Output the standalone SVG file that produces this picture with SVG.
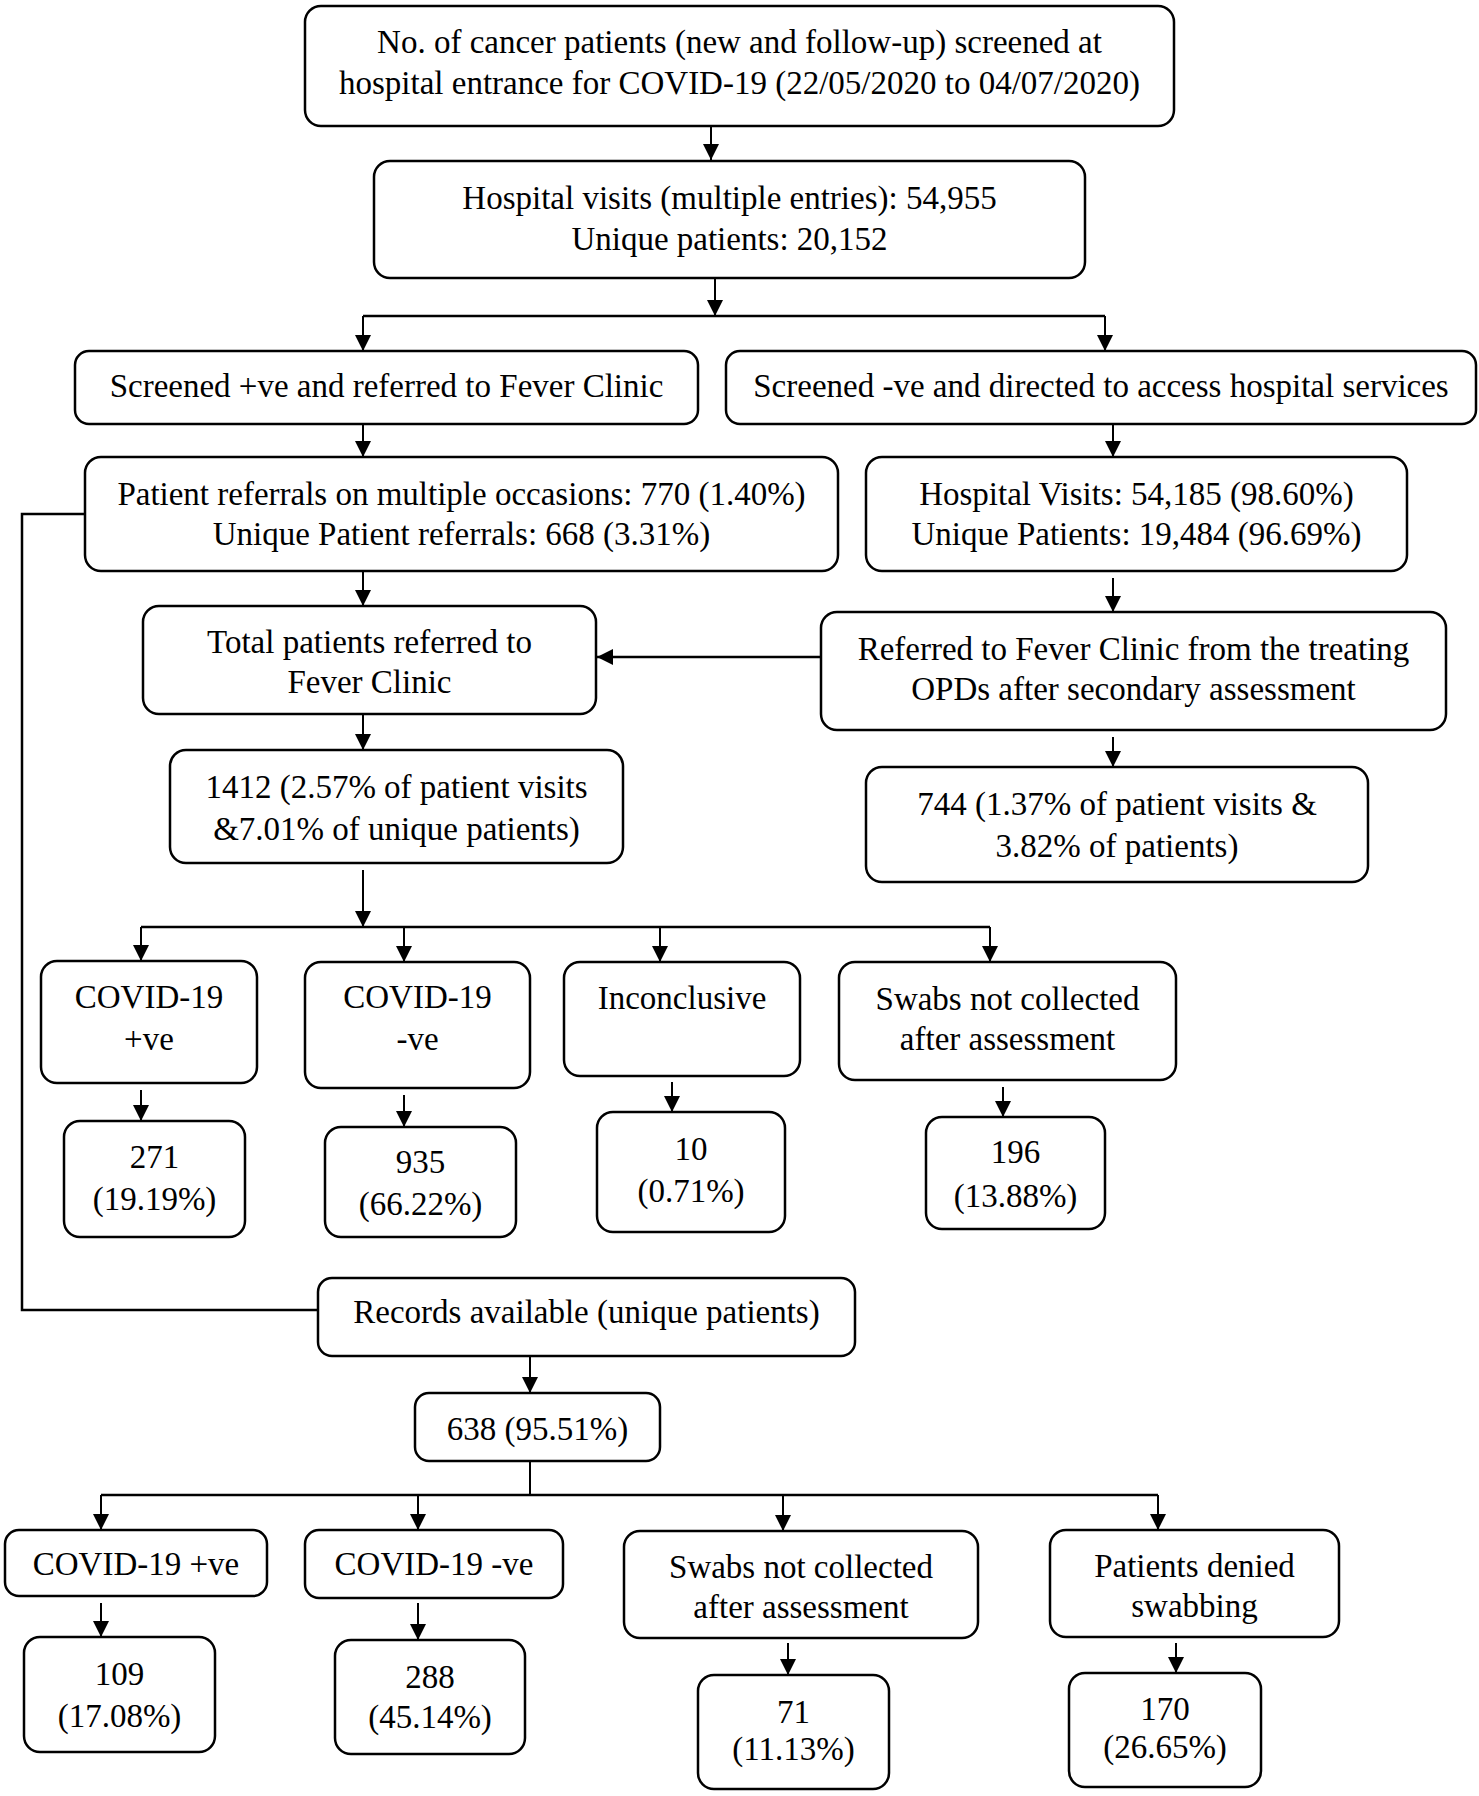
<svg xmlns="http://www.w3.org/2000/svg" width="1479" height="1796" viewBox="0 0 1479 1796">
<style>
.box{fill:#fff;stroke:#000;stroke-width:2.5}
.t{font-family:"Liberation Serif","Times New Roman",serif;font-size:33px;fill:#000;text-anchor:middle}
.c{fill:none;stroke:#000;stroke-width:2}
.b{fill:none;stroke:#000;stroke-width:2.5}
</style>
<defs>
<marker id="ah" markerUnits="userSpaceOnUse" markerWidth="16" markerHeight="16" refX="16" refY="8" orient="auto" viewBox="0 0 16 16">
<path d="M0,0 L16,8 L0,16 z" fill="#000"/>
</marker>
</defs>
<rect width="1479" height="1796" fill="#fff"/>
<g id="connectors">
<line class="c" x1="711" y1="126" x2="711" y2="160" marker-end="url(#ah)"/>
<line class="c" x1="715" y1="278" x2="715" y2="316" marker-end="url(#ah)"/>
<line class="b" x1="363" y1="316" x2="1105" y2="316"/>
<line class="c" x1="363" y1="316" x2="363" y2="351" marker-end="url(#ah)"/>
<line class="c" x1="1105" y1="316" x2="1105" y2="351" marker-end="url(#ah)"/>
<line class="c" x1="363" y1="425" x2="363" y2="457" marker-end="url(#ah)"/>
<line class="c" x1="1113" y1="425" x2="1113" y2="457" marker-end="url(#ah)"/>
<line class="c" x1="363" y1="571" x2="363" y2="606" marker-end="url(#ah)"/>
<line class="c" x1="1113" y1="578" x2="1113" y2="612" marker-end="url(#ah)"/>
<line class="b" x1="821" y1="657" x2="597" y2="657" marker-end="url(#ah)"/>
<line class="c" x1="363" y1="714" x2="363" y2="750" marker-end="url(#ah)"/>
<line class="c" x1="1113" y1="737" x2="1113" y2="767" marker-end="url(#ah)"/>
<line class="c" x1="363" y1="870" x2="363" y2="927" marker-end="url(#ah)"/>
<line class="b" x1="141" y1="927" x2="990" y2="927"/>
<line class="c" x1="141" y1="927" x2="141" y2="961" marker-end="url(#ah)"/>
<line class="c" x1="404" y1="927" x2="404" y2="962" marker-end="url(#ah)"/>
<line class="c" x1="660" y1="927" x2="660" y2="962" marker-end="url(#ah)"/>
<line class="c" x1="990" y1="927" x2="990" y2="962" marker-end="url(#ah)"/>
<line class="c" x1="141" y1="1090" x2="141" y2="1121" marker-end="url(#ah)"/>
<line class="c" x1="404" y1="1095" x2="404" y2="1127" marker-end="url(#ah)"/>
<line class="c" x1="672" y1="1082" x2="672" y2="1112" marker-end="url(#ah)"/>
<line class="c" x1="1003" y1="1087" x2="1003" y2="1117" marker-end="url(#ah)"/>
<path class="b" d="M85,514 H22 V1310 H318"/>
<line class="c" x1="530" y1="1357" x2="530" y2="1393" marker-end="url(#ah)"/>
<line class="c" x1="530" y1="1461" x2="530" y2="1495"/>
<line class="b" x1="101" y1="1495" x2="1158" y2="1495"/>
<line class="c" x1="101" y1="1495" x2="101" y2="1530" marker-end="url(#ah)"/>
<line class="c" x1="418" y1="1495" x2="418" y2="1530" marker-end="url(#ah)"/>
<line class="c" x1="783" y1="1495" x2="783" y2="1531" marker-end="url(#ah)"/>
<line class="c" x1="1158" y1="1495" x2="1158" y2="1530" marker-end="url(#ah)"/>
<line class="c" x1="101" y1="1603" x2="101" y2="1637" marker-end="url(#ah)"/>
<line class="c" x1="418" y1="1603" x2="418" y2="1640" marker-end="url(#ah)"/>
<line class="c" x1="788" y1="1643" x2="788" y2="1675" marker-end="url(#ah)"/>
<line class="c" x1="1176" y1="1643" x2="1176" y2="1673" marker-end="url(#ah)"/>
</g>
<g id="n1"><rect class="box" x="305" y="6" width="869" height="120" rx="16"/><text class="t" x="739.5" y="53">No. of cancer patients (new and follow-up) screened at</text><text class="t" x="739.5" y="94">hospital entrance for COVID-19 (22/05/2020 to 04/07/2020)</text></g>
<g id="n2"><rect class="box" x="374" y="161" width="711" height="117" rx="16"/><text class="t" x="729.5" y="209">Hospital visits (multiple entries): 54,955</text><text class="t" x="729.5" y="250">Unique patients: 20,152</text></g>
<g id="n3"><rect class="box" x="75" y="351" width="623" height="73" rx="14"/><text class="t" x="386.5" y="397">Screened +ve and referred to Fever Clinic</text></g>
<g id="n4"><rect class="box" x="726" y="351" width="750" height="73" rx="14"/><text class="t" x="1101" y="397">Screened -ve and directed to access hospital services</text></g>
<g id="n5"><rect class="box" x="85" y="457" width="753" height="114" rx="16"/><text class="t" x="461.5" y="505">Patient referrals on multiple occasions: 770 (1.40%)</text><text class="t" x="461.5" y="545">Unique Patient referrals: 668 (3.31%)</text></g>
<g id="n6"><rect class="box" x="866" y="457" width="541" height="114" rx="16"/><text class="t" x="1136.5" y="505">Hospital Visits: 54,185 (98.60%)</text><text class="t" x="1136.5" y="545">Unique Patients: 19,484 (96.69%)</text></g>
<g id="n7"><rect class="box" x="143" y="606" width="453" height="108" rx="16"/><text class="t" x="369.5" y="653">Total patients referred to</text><text class="t" x="369.5" y="693">Fever Clinic</text></g>
<g id="n8"><rect class="box" x="821" y="612" width="625" height="118" rx="16"/><text class="t" x="1133.5" y="660">Referred to Fever Clinic from the treating</text><text class="t" x="1133.5" y="700">OPDs after secondary assessment</text></g>
<g id="n9"><rect class="box" x="170" y="750" width="453" height="113" rx="16"/><text class="t" x="396.5" y="798">1412 (2.57% of patient visits</text><text class="t" x="396.5" y="840">&amp;7.01% of unique patients)</text></g>
<g id="n10"><rect class="box" x="866" y="767" width="502" height="115" rx="16"/><text class="t" x="1117" y="815">744 (1.37% of patient visits &amp;</text><text class="t" x="1117" y="857">3.82% of patients)</text></g>
<g id="n11"><rect class="box" x="41" y="961" width="216" height="122" rx="16"/><text class="t" x="149" y="1008">COVID-19</text><text class="t" x="149" y="1050">+ve</text></g>
<g id="n12"><rect class="box" x="305" y="962" width="225" height="126" rx="16"/><text class="t" x="417.5" y="1008">COVID-19</text><text class="t" x="417.5" y="1050">-ve</text></g>
<g id="n13"><rect class="box" x="564" y="962" width="236" height="114" rx="16"/><text class="t" x="682" y="1009">Inconclusive</text></g>
<g id="n14"><rect class="box" x="839" y="962" width="337" height="118" rx="16"/><text class="t" x="1007.5" y="1010">Swabs not collected</text><text class="t" x="1007.5" y="1050">after assessment</text></g>
<g id="n15"><rect class="box" x="64" y="1121" width="181" height="116" rx="16"/><text class="t" x="154.5" y="1168">271</text><text class="t" x="154.5" y="1210">(19.19%)</text></g>
<g id="n16"><rect class="box" x="325" y="1127" width="191" height="110" rx="16"/><text class="t" x="420.5" y="1173">935</text><text class="t" x="420.5" y="1215">(66.22%)</text></g>
<g id="n17"><rect class="box" x="597" y="1112" width="188" height="120" rx="16"/><text class="t" x="691" y="1160">10</text><text class="t" x="691" y="1202">(0.71%)</text></g>
<g id="n18"><rect class="box" x="926" y="1117" width="179" height="112" rx="16"/><text class="t" x="1015.5" y="1163">196</text><text class="t" x="1015.5" y="1207">(13.88%)</text></g>
<g id="n19"><rect class="box" x="318" y="1278" width="537" height="78" rx="14"/><text class="t" x="586.5" y="1323">Records available (unique patients)</text></g>
<g id="n20"><rect class="box" x="415" y="1393" width="245" height="68" rx="14"/><text class="t" x="537.5" y="1440">638 (95.51%)</text></g>
<g id="n21"><rect class="box" x="5" y="1530" width="262" height="66" rx="14"/><text class="t" x="136" y="1575">COVID-19 +ve</text></g>
<g id="n22"><rect class="box" x="305" y="1530" width="258" height="68" rx="14"/><text class="t" x="434" y="1575">COVID-19 -ve</text></g>
<g id="n23"><rect class="box" x="624" y="1531" width="354" height="107" rx="16"/><text class="t" x="801" y="1578">Swabs not collected</text><text class="t" x="801" y="1618">after assessment</text></g>
<g id="n24"><rect class="box" x="1050" y="1530" width="289" height="107" rx="16"/><text class="t" x="1194.5" y="1577">Patients denied</text><text class="t" x="1194.5" y="1617">swabbing</text></g>
<g id="n25"><rect class="box" x="24" y="1637" width="191" height="115" rx="16"/><text class="t" x="119.5" y="1685">109</text><text class="t" x="119.5" y="1727">(17.08%)</text></g>
<g id="n26"><rect class="box" x="335" y="1640" width="190" height="114" rx="16"/><text class="t" x="430" y="1688">288</text><text class="t" x="430" y="1728">(45.14%)</text></g>
<g id="n27"><rect class="box" x="698" y="1675" width="191" height="114" rx="16"/><text class="t" x="793.5" y="1723">71</text><text class="t" x="793.5" y="1760">(11.13%)</text></g>
<g id="n28"><rect class="box" x="1069" y="1673" width="192" height="114" rx="16"/><text class="t" x="1165" y="1720">170</text><text class="t" x="1165" y="1758">(26.65%)</text></g>
</svg>
